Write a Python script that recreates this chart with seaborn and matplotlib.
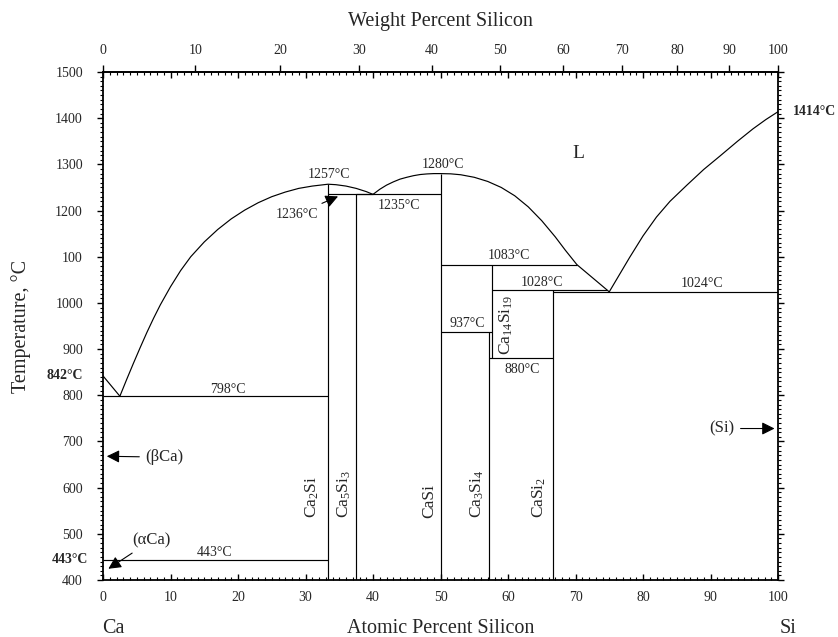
import numpy as np
import matplotlib
matplotlib.use("Agg")
import matplotlib.pyplot as plt
import seaborn as sns

# liquidus curves (atomic % Si, temperature in C)
LIQ_CA_X = [0, 2.5]
LIQ_CA_T = [842, 798]
LIQ_CA2SI_X = [2.5, 3.5, 4.5, 5.5, 6.5, 7.5, 8.5, 10, 11.5, 13, 15, 17, 19, 21, 23, 25, 27, 29, 31,
               33.33, 34.5, 36, 37.5, 39, 40]
LIQ_CA2SI_T = [798, 834, 869, 903, 936, 967, 996, 1035, 1070, 1100, 1132, 1159, 1182, 1201, 1217,
               1230, 1240, 1248, 1253, 1257, 1256, 1253, 1248, 1241, 1235]
LIQ_CASI_X = [40, 41, 42, 43, 44, 45, 46, 47, 48, 49, 50, 51.5, 53, 55, 57, 59, 61, 63, 65, 67,
              68.5, 70.2, 75]
LIQ_CASI_T = [1235, 1246, 1255, 1262, 1268, 1272, 1275.5, 1278, 1279.3, 1280, 1280, 1279.5, 1277.5,
              1272, 1263, 1250, 1232, 1208, 1178, 1143, 1114, 1083, 1024]
LIQ_SI_X = [75, 78, 80, 82, 84, 86.5, 89, 91.4, 94, 96.3, 98.2, 100]
LIQ_SI_T = [1024, 1098, 1145, 1186, 1220, 1255, 1289, 1318, 1350, 1377, 1397, 1414]

# invariant (horizontal) lines: temperature, x from, x to
INV_T = [798, 443, 1236, 1235, 1083, 1028, 1024, 937, 880]
INV_X0 = [0, 0, 33.33, 37.5, 50, 57.58, 66.67, 50, 57.14]
INV_X1 = [33.33, 33.33, 40.0, 50, 70.2, 74.7, 100, 57.58, 66.67]

# compounds (vertical lines): x, low T, high T
COMP_X = [33.33, 37.5, 50, 57.14, 57.58, 66.67]
COMP_T0 = [400, 400, 400, 400, 880, 400]
COMP_T1 = [1257, 1236, 1280, 937, 1083, 1028]

# rotated compound labels
COMP_NAMES = ["Ca$_\\mathrm{2}$Si", "Ca$_\\mathrm{5}$Si$_\\mathrm{3}$", "CaSi",
              "Ca$_\\mathrm{3}$Si$_\\mathrm{4}$", "CaSi$_\\mathrm{2}$",
              "Ca$_\\mathrm{14}$Si$_\\mathrm{19}$"]
COMP_LABEL_X = [31.0, 35.7, 48.3, 55.4, 64.7, 59.7]
COMP_LABEL_T = [534, 534, 534, 534, 534, 887]

# temperature labels
TEMP_LABELS = ["1257°C", "1235°C", "1280°C", "1083°C", "1028°C", "1024°C",
               "937°C", "880°C", "798°C", "443°C"]
TEMP_LABEL_X = [33.5, 43.9, 50.4, 60.2, 65.0, 88.7, 54.0, 62.1, 18.5, 16.6]
TEMP_LABEL_T = [1277, 1212, 1300, 1102, 1044, 1042, 956, 856, 813, 459]

Y_TICKS = list(range(400, 1501, 100))
Y_TICK_LABELS = ["400", "500", "600", "700", "800", "900", "1000", "100", "1200", "1300", "1400", "1500"]
WT_TICKS = list(range(0, 101, 10))

CA_MASS = 40.078
SI_MASS = 28.0855


def at_to_wt(x):
    x = np.asarray(x, dtype=float)
    with np.errstate(divide="ignore", invalid="ignore"):
        return 100 * x * SI_MASS / (x * SI_MASS + (100 - x) * CA_MASS)


def wt_to_at(w):
    w = np.asarray(w, dtype=float)
    with np.errstate(divide="ignore", invalid="ignore"):
        return 100 * (w / SI_MASS) / (w / SI_MASS + (100 - w) / CA_MASS)


sns.set_theme(style="ticks")
plt.rcParams["font.family"] = ["Liberation Serif", "DejaVu Serif"]
plt.rcParams["mathtext.fontset"] = "custom"
plt.rcParams["mathtext.rm"] = "Liberation Serif"
plt.rcParams["mathtext.it"] = "Liberation Serif:italic"

fig = plt.figure(figsize=(8.38, 6.37), dpi=100)
ax = fig.add_axes([103 / 838, 57 / 637, 675 / 838, 508 / 637])

lw = 0.85
for xs, ts in [(LIQ_CA_X, LIQ_CA_T), (LIQ_CA2SI_X, LIQ_CA2SI_T),
               (LIQ_CASI_X, LIQ_CASI_T), (LIQ_SI_X, LIQ_SI_T)]:
    sns.lineplot(x=xs, y=ts, sort=False, estimator=None, color="black", lw=lw, ax=ax)

ax.hlines(INV_T, INV_X0, INV_X1, color="black", lw=lw)
ax.vlines(COMP_X, COMP_T0, COMP_T1, color="black", lw=lw)

for name, x, t in zip(COMP_NAMES, COMP_LABEL_X, COMP_LABEL_T):
    ax.text(x, t, name, rotation=90, ha="center", va="bottom", fontsize=12.5)

for lab, x, t in zip(TEMP_LABELS, TEMP_LABEL_X, TEMP_LABEL_T):
    ax.text(x, t, lab, ha="center", va="center", fontsize=10)

ax.text(70.4, 1324, "L", ha="center", va="center", fontsize=14)

arrow = dict(arrowstyle="-|>", color="black", lw=0.8, mutation_scale=19)
ax.annotate("1236°C", xy=(35.2, 1233), xytext=(28.7, 1192), ha="center", va="center",
            fontsize=10, arrowprops=arrow)
ax.annotate("(βCa)", xy=(0.15, 668), xytext=(9.1, 666), ha="center", va="center",
            fontsize=12, arrowprops=arrow)
ax.annotate("(αCa)", xy=(0.45, 421), xytext=(7.2, 486), ha="center", va="center",
            fontsize=12, arrowprops=arrow)
ax.annotate("(Si)", xy=(99.9, 728), xytext=(91.7, 728), ha="center", va="center",
            fontsize=12, arrowprops=arrow)

yt = ax.get_yaxis_transform()
ax.text(-0.029, 843, "842°C", transform=yt, ha="right", va="center", fontsize=10, fontweight="bold")
ax.text(-0.022, 444, "443°C", transform=yt, ha="right", va="center", fontsize=10, fontweight="bold")
ax.text(1.022, 1414, "1414°C", transform=yt, ha="left", va="center", fontsize=10, fontweight="bold")

xt = ax.get_xaxis_transform()
ax.text(1.6, -0.0945, "Ca", transform=xt, ha="center", va="center", fontsize=14.5)
ax.text(101.5, -0.0945, "Si", transform=xt, ha="center", va="center", fontsize=14.5)
ax.text(50, -0.0945, "Atomic Percent Silicon", transform=xt, ha="center", va="center", fontsize=14.5)
ax.text(50, 1.099, "Weight Percent Silicon", transform=xt, ha="center", va="center", fontsize=14.5)
ax.text(-0.1215, 0.5, "Temperature, °C", transform=ax.transAxes, rotation=90,
        ha="center", va="center", fontsize=14.5)

ax.set_xlim(0, 100)
ax.set_ylim(400, 1500)
ax.set_xticks(range(0, 101, 10))
ax.set_xticks(range(0, 101, 1), minor=True)
ax.set_yticks(Y_TICKS)
ax.set_yticklabels(Y_TICK_LABELS)
ax.set_yticks(range(400, 1501, 10), minor=True)
ax.set_xlabel("")
ax.set_ylabel("")

ax.tick_params(axis="x", which="major", direction="in", top=True, bottom=True,
               length=4, width=1, pad=8, labelsize=10, color="black")
ax.tick_params(axis="x", which="minor", direction="in", top=True, bottom=True,
               length=2.2, width=0.8, color="black")
ax.tick_params(axis="y", which="major", direction="out", left=True, right=True,
               length=4.5, width=1, pad=10, labelsize=10, color="black")
ax.tick_params(axis="y", which="minor", direction="out", left=True, right=True,
               length=2.5, width=0.8, color="black")

for sp in ax.spines.values():
    sp.set_visible(True)
    sp.set_linewidth(1.3)
    sp.set_color("black")

sec = ax.secondary_xaxis("top", functions=(at_to_wt, wt_to_at))
sec.set_xticks(WT_TICKS)
sec.tick_params(axis="x", which="major", direction="out", length=5, width=1,
                pad=6, labelsize=10, color="black")
sec.tick_params(axis="x", which="minor", length=0)
sec.spines["top"].set_linewidth(1.3)

fig.savefig("out.png", dpi=100)
